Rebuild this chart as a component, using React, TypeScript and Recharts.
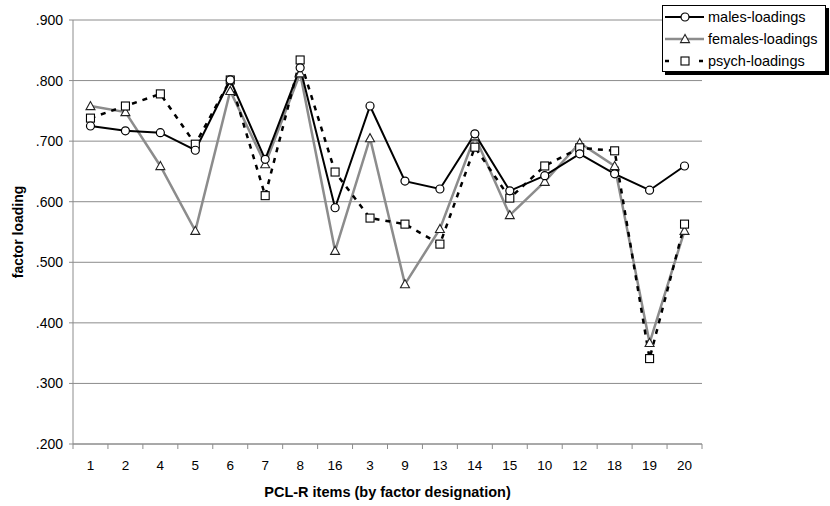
import React from 'react';
import {
  LineChart,
  Line,
  XAxis,
  YAxis,
  CartesianGrid,
} from 'recharts';

const items = ['1', '2', '4', '5', '6', '7', '8', '16', '3', '9', '13', '14', '15', '10', '12', '18', '19', '20'];
const males = [0.725, 0.717, 0.714, 0.685, 0.801, 0.67, 0.821, 0.59, 0.758, 0.634, 0.621, 0.712, 0.618, 0.643, 0.679, 0.646, 0.619, 0.659];
const females = [0.758, 0.748, 0.659, 0.552, 0.783, 0.662, 0.812, 0.519, 0.705, 0.464, 0.555, 0.708, 0.578, 0.633, 0.697, 0.659, 0.367, 0.552];
const psych = [0.738, 0.758, 0.778, 0.695, 0.801, 0.61, 0.834, 0.649, 0.573, 0.563, 0.53, 0.69, 0.606, 0.659, 0.689, 0.684, 0.341, 0.563];
const yTicks = [0.2, 0.3, 0.4, 0.5, 0.6, 0.7, 0.8, 0.9];

const data = items.map((item, i) => ({
  item,
  males: males[i],
  females: females[i],
  psych: psych[i],
}));

const W = 830;
const H = 506;
const margin = { top: 20, right: 128, bottom: 0, left: 0 };
const Y_AXIS_W = 73;
const plotW = W - margin.left - margin.right - Y_AXIS_W;
const band = plotW / items.length;
const FONT = '"Liberation Sans", Arial, sans-serif';
const GRAY = '#8c8c8c';

const fmt = (v: number) => v.toFixed(3).replace(/^0/, '');

function CircleDot(props: any) {
  const { cx, cy, index } = props;
  if (cx == null || cy == null) return <g key={'c' + index} />;
  return <circle key={'c' + index} cx={cx} cy={cy} r={4} fill="#fff" stroke="#000" strokeWidth={1.2} />;
}

function TriangleDot(props: any) {
  const { cx, cy, index } = props;
  if (cx == null || cy == null) return <g key={'t' + index} />;
  const s = 4.5;
  return (
    <polygon
      key={'t' + index}
      points={`${cx},${cy - s} ${cx - s},${cy + s * 0.8} ${cx + s},${cy + s * 0.8}`}
      fill="#fff"
      stroke="#222"
      strokeWidth={1.1}
    />
  );
}

function SquareDot(props: any) {
  const { cx, cy, index } = props;
  if (cx == null || cy == null) return <g key={'s' + index} />;
  return <rect key={'s' + index} x={cx - 4} y={cy - 4} width={8} height={8} fill="#fff" stroke="#000" strokeWidth={1.1} />;
}

function XTick(props: any) {
  const { x, y, payload, index } = props;
  const last = index === items.length - 1;
  return (
    <g>
      <line x1={x - band / 2} x2={x - band / 2} y1={y - 5} y2={y} stroke={GRAY} strokeWidth={1} />
      {last && <line x1={x + band / 2} x2={x + band / 2} y1={y - 5} y2={y} stroke={GRAY} strokeWidth={1} />}
      <text x={x} y={y + 21} textAnchor="middle" fontSize={13.5} fontFamily={FONT} fill="#000">
        {payload.value}
      </text>
    </g>
  );
}

function LegendBox() {
  const rows = [
    { name: 'males-loadings', color: '#000', dash: undefined, Dot: CircleDot, w: 2 },
    { name: 'females-loadings', color: GRAY, dash: undefined, Dot: TriangleDot, w: 2.5 },
    { name: 'psych-loadings', color: '#000', dash: '4 13', Dot: SquareDot, w: 2.5 },
  ];
  return (
    <div
      style={{
        position: 'absolute',
        left: 662,
        top: 5,
        background: '#fff',
        border: '1px solid #000',
        boxShadow: '3px 3px 0 #000',
        width: 162,
        height: 65,
        fontFamily: FONT,
        fontSize: 14.5,
      }}
    >
      {rows.map((r) => (
        <div key={r.name} style={{ display: 'flex', alignItems: 'center', height: 22 }}>
          <svg width={42} height={14} style={{ marginLeft: 1, flex: 'none' }}>
            <line x1={1} x2={40} y1={7} y2={7} stroke={r.color} strokeWidth={r.w} strokeDasharray={r.dash} />
            <r.Dot cx={21} cy={7} index={0} />
          </svg>
          <span style={{ marginLeft: 2, whiteSpace: 'nowrap' }}>{r.name}</span>
        </div>
      ))}
    </div>
  );
}

export default function App() {
  return (
    <div style={{ position: 'absolute', left: 0, top: 0, width: W, height: H, background: '#fff' }}>
      <LineChart width={W} height={H} data={data} margin={margin}>
        <CartesianGrid vertical={false} stroke={GRAY} strokeWidth={1} />
        <XAxis
          dataKey="item"
          height={62}
          stroke={GRAY}
          padding={{ left: band / 2, right: band / 2 }}
          tickLine={false}
          tickSize={5}
          tickMargin={0}
          interval={0}
          tick={<XTick />}
          label={{
            value: 'PCL-R items (by factor designation)',
            position: 'insideBottom',
            offset: 9,
            style: { fontFamily: FONT, fontSize: 14.5, fontWeight: 'bold', fill: '#000' },
          }}
        />
        <YAxis
          domain={[0.2, 0.9]}
          ticks={yTicks}
          width={Y_AXIS_W}
          stroke={GRAY}
          tickSize={4}
          tickMargin={6}
          tickFormatter={fmt}
          tick={{ fill: '#000', fontSize: 14, fontFamily: FONT }}
          label={{
            value: 'factor loading',
            angle: -90,
            position: 'insideLeft',
            offset: 18,
            style: { textAnchor: 'middle', fontFamily: FONT, fontSize: 14, fontWeight: 'bold', fill: '#000' },
          }}
        />
        <YAxis yAxisId="r" orientation="right" width={0} stroke={GRAY} tick={false} tickLine={false} />
        <Line
          dataKey="females"
          stroke={GRAY}
          strokeWidth={2.5}
          dot={(p: any) => <TriangleDot {...p} key={'f' + p.index} />}
          isAnimationActive={false}
        />
        <Line
          dataKey="psych"
          stroke="#000"
          strokeWidth={2.5}
          strokeDasharray="5 6"
          dot={(p: any) => <SquareDot {...p} key={'p' + p.index} />}
          isAnimationActive={false}
        />
        <Line
          dataKey="males"
          stroke="#000"
          strokeWidth={2}
          dot={(p: any) => <CircleDot {...p} key={'m' + p.index} />}
          isAnimationActive={false}
        />
      </LineChart>
      <LegendBox />
    </div>
  );
}
